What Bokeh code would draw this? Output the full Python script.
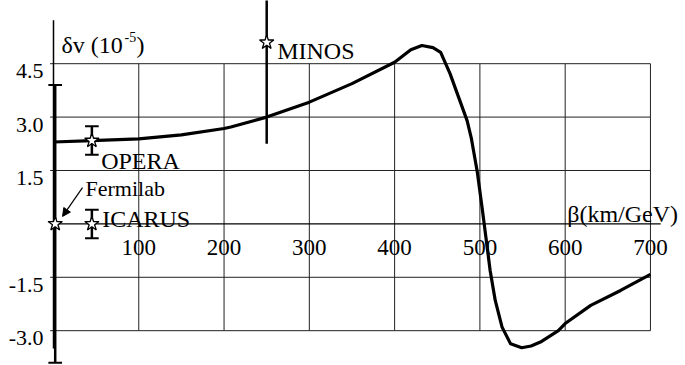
from bokeh.plotting import figure
from bokeh.models import Arrow, NormalHead
from bokeh.core.properties import value
from bokeh.embed import file_html
from bokeh.resources import INLINE

# ---- data ----
beta = [0, 45, 100, 150, 200, 208, 250, 300, 350, 400, 419, 432, 445, 454, 465,
        475, 485, 490, 497, 503, 507, 509, 512, 518, 526, 536, 549, 560,
        571, 592, 600, 630, 665, 700]
dv = [2.30, 2.34, 2.39, 2.50, 2.68, 2.72, 3.0, 3.42, 3.94, 4.54, 4.89, 5.01,
      4.95, 4.82, 4.22, 3.56, 2.90, 2.40, 1.45, 0.38, -0.37, -0.74, -1.31,
      -2.15, -2.90, -3.37, -3.48, -3.43, -3.32, -3.0, -2.80, -2.29, -1.87, -1.42]

exp_names = ["Fermilab", "OPERA", "ICARUS", "MINOS"]
exp_beta = [2, 45, 45, 250]
exp_dv = [0.0, 2.34, 0.0, 5.1]
exp_err = [3.9, 0.40, 0.40, 2.85]
exp_cap = [True, True, True, False]

x_ticks = [100, 200, 300, 400, 500, 600, 700]
y_ticks = [4.5, 3.0, 1.5, -1.5, -3.0]
x_tick_labels = ["100", "200", "300", "400", "500", "600", "700"]
y_tick_labels = ["4.5", "3.0", "1.5", "-1.5", "-3.0"]

FONT = value("Liberation Serif")

p = figure(width=685, height=365, x_range=(-62.15, 741.1), y_range=(-3.978, 6.275),
           output_backend="svg", toolbar_location=None, min_border=0,
           x_axis_location=None, y_axis_location=None)
p.grid.visible = False
p.outline_line_color = None
p.background_fill_color = "white"
p.border_fill_color = "white"

xmax = 700
ymin, ymax = -3.0, 4.5
# grid
p.segment(x0=x_ticks, y0=[ymin]*len(x_ticks), x1=x_ticks, y1=[ymax]*len(x_ticks),
          line_color="#222222", line_width=1)
p.segment(x0=[-4]*len(y_ticks), y0=y_ticks, x1=[xmax]*len(y_ticks), y1=y_ticks,
          line_color="#222222", line_width=1)
# x axis (zero line) and y axis
p.segment(x0=[0], y0=[0], x1=[712], y1=[0], line_color="black", line_width=1.3)
p.segment(x0=[0], y0=[-3.5], x1=[0], y1=[5.72], line_color="black", line_width=1.5)

# curve
p.line(beta, dv, line_color="black", line_width=3.2, line_join="round")

# error bars
lo = [d - e for d, e in zip(exp_dv, exp_err)]
hi = [d + e for d, e in zip(exp_dv, exp_err)]
p.segment(x0=exp_beta, y0=lo, x1=exp_beta, y1=hi, line_color="black", line_width=2.5)
cb = [b for b, c in zip(exp_beta, exp_cap) if c]
clo = [l for l, c in zip(lo, exp_cap) if c]
chi = [h for h, c in zip(hi, exp_cap) if c]
half = 8.0
p.segment(x0=[b - half for b in cb], y0=clo, x1=[b + half for b in cb], y1=clo,
          line_color="black", line_width=2)
p.segment(x0=[b - half for b in cb], y0=chi, x1=[b + half for b in cb], y1=chi,
          line_color="black", line_width=2)

# stars
p.scatter(exp_beta, exp_dv, marker="star", size=15, fill_color="white",
          line_color="black", line_width=1.3)

# tick labels
p.text(x=[-11.7]*len(y_ticks), y=[t - 0.21 for t in y_ticks], text=y_tick_labels,
       text_font=FONT, text_font_size="22px", text_align="right",
       text_baseline="alphabetic", text_color="black")
p.text(x=x_ticks, y=[-0.654]*len(x_ticks), text=x_tick_labels,
       text_font=FONT, text_font_size="23px", text_align="center",
       text_baseline="alphabetic", text_color="black")

# experiment labels
p.text(x=[55.9, 57.1, 262.3], y=[1.753, 0.124, 4.851], text=["OPERA", "ICARUS", "MINOS"],
       text_font=FONT, text_font_size="24px", text_align="left",
       text_baseline="alphabetic", text_color="black")
p.text(x=[37.5], y=[0.986], text=["Fermilab"], text_font=FONT, text_font_size="22px",
       text_align="left", text_baseline="alphabetic", text_color="black")

# axis titles
p.text(x=[602.4], y=[0.284], text=["β(km/GeV)"], text_font=FONT, text_font_size="24px",
       text_align="left", text_baseline="alphabetic", text_color="black")
p.text(x=[9.4], y=[5.011], text=["δv (10"], text_font=FONT, text_font_size="24px",
       text_align="left", text_baseline="alphabetic", text_color="black")
p.text(x=[83.3], y=[5.24], text=["-5"], text_font=FONT, text_font_size="14px",
       text_align="left", text_baseline="alphabetic", text_color="black")
p.text(x=[97.3], y=[5.011], text=[")"], text_font=FONT, text_font_size="24px",
       text_align="left", text_baseline="alphabetic", text_color="black")

# arrow to Fermilab
p.add_layout(Arrow(end=NormalHead(size=8, fill_color="black", line_color="black"),
                   x_start=34.0, y_start=1.02, x_end=10.6, y_end=0.21,
                   line_color="black", line_width=1.2))

open("out.html", "w").write(file_html(p, INLINE))
